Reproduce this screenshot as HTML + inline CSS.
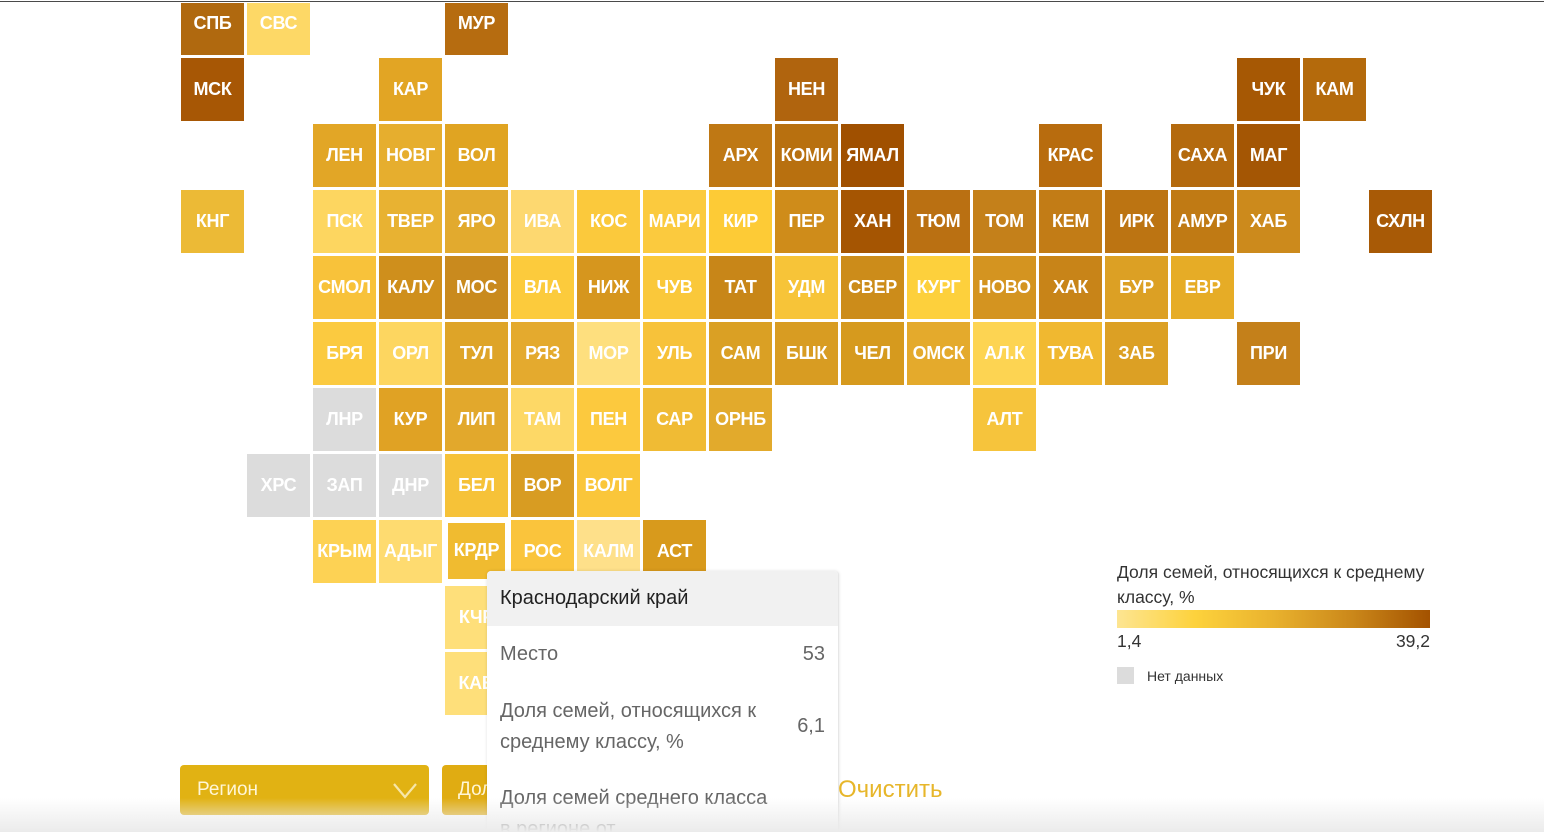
<!DOCTYPE html>
<html lang="ru">
<head>
<meta charset="utf-8">
<style>
  html,body{margin:0;padding:0;width:1544px;height:832px;overflow:hidden;}
  body{position:relative;background:#fff;font-family:"Liberation Sans","Noto Sans CJK SC",sans-serif;}
  .c{position:absolute;width:63px;height:63px;line-height:62px;text-align:center;color:#fff;font-weight:bold;font-size:18px;letter-spacing:-0.3px;white-space:nowrap;overflow:hidden;}
  .g{background:#dcdcdc;}
  #topline{position:absolute;left:0;top:0;width:1544px;height:3px;background:#fff;z-index:5;}
  #topline:after{content:"";position:absolute;left:0;top:1px;width:1544px;height:1px;background:#4a4a4a;}
  #bottomfade{position:absolute;left:0;top:798px;width:1544px;height:34px;background:linear-gradient(to bottom,rgba(240,240,240,0) 0%,#ebebeb 100%);z-index:8;pointer-events:none;}
  .tip{position:absolute;left:487px;top:571px;width:351px;height:261px;overflow:hidden;background:#fff;border-radius:4px 4px 0 0;box-shadow:0 0 3px rgba(0,0,0,0.12);border-right:1px solid #e6e6e6;z-index:6;}
  .tip .hd{height:55px;background:#f1f1f1;border-radius:4px 4px 0 0;color:#222;font-size:20px;line-height:55px;padding-left:13px;}
  .tip .row{position:absolute;left:13px;color:#666;font-size:20px;}
  .tip .val{position:absolute;right:13px;color:#666;font-size:20px;}
  .legend-title{position:absolute;left:1117px;top:560px;font-size:17.5px;line-height:25px;color:#333;width:340px;}
  .bar{position:absolute;left:1117px;top:610px;width:313px;height:18px;background:linear-gradient(to right,#fde592 0%,#fdd23c 25%,#e9b22e 50%,#cb881a 75%,#a35200 100%);}
  .lbl{position:absolute;top:631px;font-size:17.5px;color:#333;line-height:20px;}
  .nd{position:absolute;left:1117px;top:667px;width:17px;height:17px;background:#dcdcdc;}
  .ndt{position:absolute;left:1147px;top:668px;font-size:14px;color:#333;line-height:17px;}
  .btn{position:absolute;top:765px;height:50px;border-radius:4px;background:#e1b213;color:#fff6d6;font-size:19px;line-height:50px;}
  .clear{position:absolute;left:838px;top:774px;font-size:24px;line-height:32px;color:#e7b62a;z-index:7;}
</style>
</head>
<body>
<div id="topline"></div>

<!-- row 0 (top -8) -->
<div class="c" style="left:181px;top:-8px;background:#b0690f">СПБ</div>
<div class="c" style="left:247px;top:-8px;background:#fdd866">СВС</div>
<div class="c" style="left:445px;top:-8px;background:#b66c10">МУР</div>

<!-- row 1 (top 58) -->
<div class="c" style="left:181px;top:58px;background:#a75705">МСК</div>
<div class="c" style="left:379px;top:58px;background:#e2a524">КАР</div>
<div class="c" style="left:775px;top:58px;background:#b0640e">НЕН</div>
<div class="c" style="left:1237px;top:58px;background:#a65804">ЧУК</div>
<div class="c" style="left:1303px;top:58px;background:#b46a0c">КАМ</div>

<!-- row 2 (top 124) -->
<div class="c" style="left:313px;top:124px;background:#e2a626">ЛЕН</div>
<div class="c" style="left:379px;top:124px;background:#e6ae2e">НОВГ</div>
<div class="c" style="left:445px;top:124px;background:#e0a422">ВОЛ</div>
<div class="c" style="left:709px;top:124px;background:#bf7814">АРХ</div>
<div class="c" style="left:775px;top:124px;background:#b8700f">КОМИ</div>
<div class="c" style="left:841px;top:124px;background:#a05000">ЯМАЛ</div>
<div class="c" style="left:1039px;top:124px;background:#b86c0e">КРАС</div>
<div class="c" style="left:1171px;top:124px;background:#b46a0e">САХА</div>
<div class="c" style="left:1237px;top:124px;background:#a45604">МАГ</div>

<!-- row 3 (top 190) -->
<div class="c" style="left:181px;top:190px;background:#ecba36">КНГ</div>
<div class="c" style="left:313px;top:190px;background:#fdd660">ПСК</div>
<div class="c" style="left:379px;top:190px;background:#e8b232">ТВЕР</div>
<div class="c" style="left:445px;top:190px;background:#e2aa2e">ЯРО</div>
<div class="c" style="left:511px;top:190px;background:#fdd870">ИВА</div>
<div class="c" style="left:577px;top:190px;background:#fbc93c">КОС</div>
<div class="c" style="left:643px;top:190px;background:#fbca3e">МАРИ</div>
<div class="c" style="left:709px;top:190px;background:#fdcb36">КИР</div>
<div class="c" style="left:775px;top:190px;background:#cf8c1a">ПЕР</div>
<div class="c" style="left:841px;top:190px;background:#a55502">ХАН</div>
<div class="c" style="left:907px;top:190px;background:#ba7012">ТЮМ</div>
<div class="c" style="left:973px;top:190px;background:#c4801a">ТОМ</div>
<div class="c" style="left:1039px;top:190px;background:#c27c16">КЕМ</div>
<div class="c" style="left:1105px;top:190px;background:#bc7412">ИРК</div>
<div class="c" style="left:1171px;top:190px;background:#c07a14">АМУР</div>
<div class="c" style="left:1237px;top:190px;background:#cc8a1c">ХАБ</div>
<div class="c" style="left:1369px;top:190px;background:#a85a06">СХЛН</div>

<!-- row 4 (top 256) -->
<div class="c" style="left:313px;top:256px;background:#f8c23a">СМОЛ</div>
<div class="c" style="left:379px;top:256px;background:#cf8f1c">КАЛУ</div>
<div class="c" style="left:445px;top:256px;background:#c98a1e">МОС</div>
<div class="c" style="left:511px;top:256px;background:#fccb3c">ВЛА</div>
<div class="c" style="left:577px;top:256px;background:#d6961e">НИЖ</div>
<div class="c" style="left:643px;top:256px;background:#fac83a">ЧУВ</div>
<div class="c" style="left:709px;top:256px;background:#c88618">ТАТ</div>
<div class="c" style="left:775px;top:256px;background:#f7c438">УДМ</div>
<div class="c" style="left:841px;top:256px;background:#cc8c1a">СВЕР</div>
<div class="c" style="left:907px;top:256px;background:#fdd03c">КУРГ</div>
<div class="c" style="left:973px;top:256px;background:#d49420">НОВО</div>
<div class="c" style="left:1039px;top:256px;background:#c88418">ХАК</div>
<div class="c" style="left:1105px;top:256px;background:#dca024">БУР</div>
<div class="c" style="left:1171px;top:256px;background:#e6ac26">ЕВР</div>

<!-- row 5 (top 322) -->
<div class="c" style="left:313px;top:322px;background:#fbca40">БРЯ</div>
<div class="c" style="left:379px;top:322px;background:#fdd660">ОРЛ</div>
<div class="c" style="left:445px;top:322px;background:#dea428">ТУЛ</div>
<div class="c" style="left:511px;top:322px;background:#e4aa2e">РЯЗ</div>
<div class="c" style="left:577px;top:322px;background:#fedf7e">МОР</div>
<div class="c" style="left:643px;top:322px;background:#f7c23a">УЛЬ</div>
<div class="c" style="left:709px;top:322px;background:#daa024">САМ</div>
<div class="c" style="left:775px;top:322px;background:#d89c22">БШК</div>
<div class="c" style="left:841px;top:322px;background:#d69a1e">ЧЕЛ</div>
<div class="c" style="left:907px;top:322px;background:#e4aa2c">ОМСК</div>
<div class="c" style="left:973px;top:322px;background:#fdd452">АЛ.К</div>
<div class="c" style="left:1039px;top:322px;background:#f0b830">ТУВА</div>
<div class="c" style="left:1105px;top:322px;background:#dca024">ЗАБ</div>
<div class="c" style="left:1237px;top:322px;background:#c4801a">ПРИ</div>

<!-- row 6 (top 388) -->
<div class="c g" style="left:313px;top:388px">ЛНР</div>
<div class="c" style="left:379px;top:388px;background:#e0a224">КУР</div>
<div class="c" style="left:445px;top:388px;background:#e2a82c">ЛИП</div>
<div class="c" style="left:511px;top:388px;background:#fdd866">ТАМ</div>
<div class="c" style="left:577px;top:388px;background:#fcc93e">ПЕН</div>
<div class="c" style="left:643px;top:388px;background:#f0bb34">САР</div>
<div class="c" style="left:709px;top:388px;background:#e2aa2c">ОРНБ</div>
<div class="c" style="left:973px;top:388px;background:#f6c43c">АЛТ</div>

<!-- row 7 (top 454) -->
<div class="c g" style="left:247px;top:454px">ХРС</div>
<div class="c g" style="left:313px;top:454px">ЗАП</div>
<div class="c g" style="left:379px;top:454px">ДНР</div>
<div class="c" style="left:445px;top:454px;background:#f6c238">БЕЛ</div>
<div class="c" style="left:511px;top:454px;background:#d89c22">ВОР</div>
<div class="c" style="left:577px;top:454px;background:#fac63a">ВОЛГ</div>

<!-- row 8 (top 520) -->
<div class="c" style="left:313px;top:520px;background:#fdd254">КРЫМ</div>
<div class="c" style="left:379px;top:520px;background:#fedb70">АДЫГ</div>
<div class="c" style="left:448px;top:523px;width:57px;height:56px;line-height:55px;background:#f0bb30">КРДР</div>
<div class="c" style="left:511px;top:520px;background:#fac43c">РОС</div>
<div class="c" style="left:577px;top:520px;background:#fee08a">КАЛМ</div>
<div class="c" style="left:643px;top:520px;background:#d89a1c">АСТ</div>

<!-- row 9, 10 -->
<div class="c" style="left:445px;top:586px;background:#fedf7a">КЧР</div>
<div class="c" style="left:445px;top:652px;background:#fedf7a">КАБ</div>

<!-- Tooltip -->
<div class="tip">
  <div class="hd">Краснодарский край</div>
  <div class="row" style="top:71px;line-height:24px">Место</div>
  <div class="val" style="top:71px;line-height:24px">53</div>
  <div class="row" style="top:125px;line-height:31px">Доля семей, относящихся к<br>среднему классу, %</div>
  <div class="val" style="top:140px;line-height:31px">6,1</div>
  <div class="row" style="top:212px;line-height:31px">Доля семей среднего класса<br>в регионе от</div>
</div>

<!-- Legend -->
<div class="legend-title">Доля семей, относящихся к среднему<br>классу, %</div>
<div class="bar"></div>
<div class="lbl" style="left:1117px">1,4</div>
<div class="lbl" style="left:1330px;width:100px;text-align:right">39,2</div>
<div class="nd"></div>
<div class="ndt">Нет данных</div>

<!-- Controls -->
<div class="btn" style="left:180px;width:249px;">
  <span style="position:absolute;left:17px;">Регион</span>
  <svg style="position:absolute;left:212px;top:17px" width="26" height="18" viewBox="0 0 26 18"><polyline points="2,2 13,15 24,2" fill="none" stroke="#f6e6a8" stroke-width="2.2"/></svg>
</div>
<div class="btn" style="left:442px;width:120px;background:#e0ac12;">
  <span style="position:absolute;left:16px;">Доля</span>
</div>
<div class="clear">Очистить</div>

<div id="bottomfade"></div>
</body>
</html>
